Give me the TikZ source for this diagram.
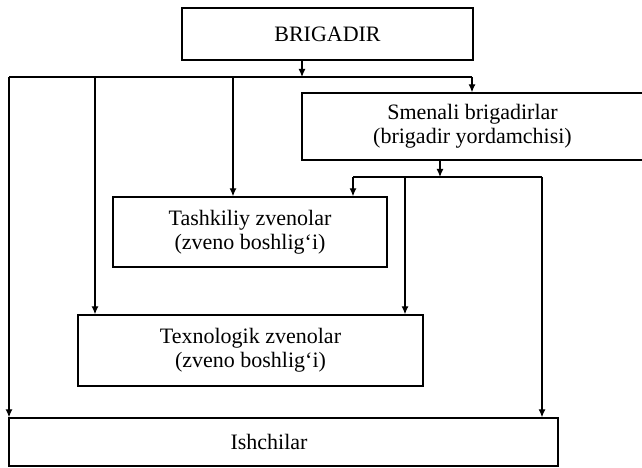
\documentclass[tikz,border=0pt]{standalone}
\usepackage{fontspec}
\setmainfont{Liberation Serif}
\usetikzlibrary{arrows.meta}
\tikzset{
  box/.style={draw, line width=1.3pt, rectangle, inner sep=0pt, align=center,
              font=\fontsize{22}{24}\selectfont},
  conn/.style={line width=1.3pt},
  arr/.style={line width=1.3pt, -{Latex[length=8pt,width=7pt]}}
}
\begin{document}
\begin{tikzpicture}[x=1pt,y=1pt]
\useasboundingbox (0,0) rectangle (642,468);
% boxes
\node[box, minimum width=291pt, minimum height=52pt] (brig) at (327.5,434) {BRIGADIR};
\node[box, minimum width=341pt, minimum height=67pt] (smen) at (472.5,341.5) {Smenali brigadirlar\\(brigadir yordamchisi)};
\node[box, minimum width=274pt, minimum height=70pt] (tash) at (250,236) {Tashkiliy zvenolar\\(zveno boshlig‘i)};
\node[box, minimum width=345pt, minimum height=71pt] (tex) at (250.5,117.5) {Texnologik zvenolar\\(zveno boshlig‘i)};
\node[box, minimum width=549pt, minimum height=48pt] (ish) at (283.5,26) {Ishchilar\hspace*{29pt}};
% junction points of the brigadir bus
\coordinate (b0) at (302,391);
\coordinate (bl) at (9,391);
\coordinate (b1) at (95,391);
\coordinate (b2) at (233,391);
\coordinate (br) at (472,391);
% junction points of the smenali bus
\coordinate (s0) at (440,291);
\coordinate (s1) at (353,291);
\coordinate (s2) at (405,291);
\coordinate (s3) at (542,291);
% connectors from BRIGADIR
\draw[arr] (b0 |- brig.south) -- (b0);
\draw[conn] (bl) -- (br);
\draw[arr] (br) -- (br |- smen.north);
\draw[arr] (bl) -- (bl |- ish.north);
\draw[arr] (b1) -- (b1 |- tex.north);
\draw[arr] (b2) -- (b2 |- tash.north);
% connectors from Smenali brigadirlar
\draw[arr] (s0 |- smen.south) -- (s0);
\draw[conn] (s1) -- (s3);
\draw[arr] (s1) -- (s1 |- tash.north);
\draw[arr] (s2) -- (s2 |- tex.north);
\draw[arr] (s3) -- (s3 |- ish.north);
\end{tikzpicture}
\end{document}
